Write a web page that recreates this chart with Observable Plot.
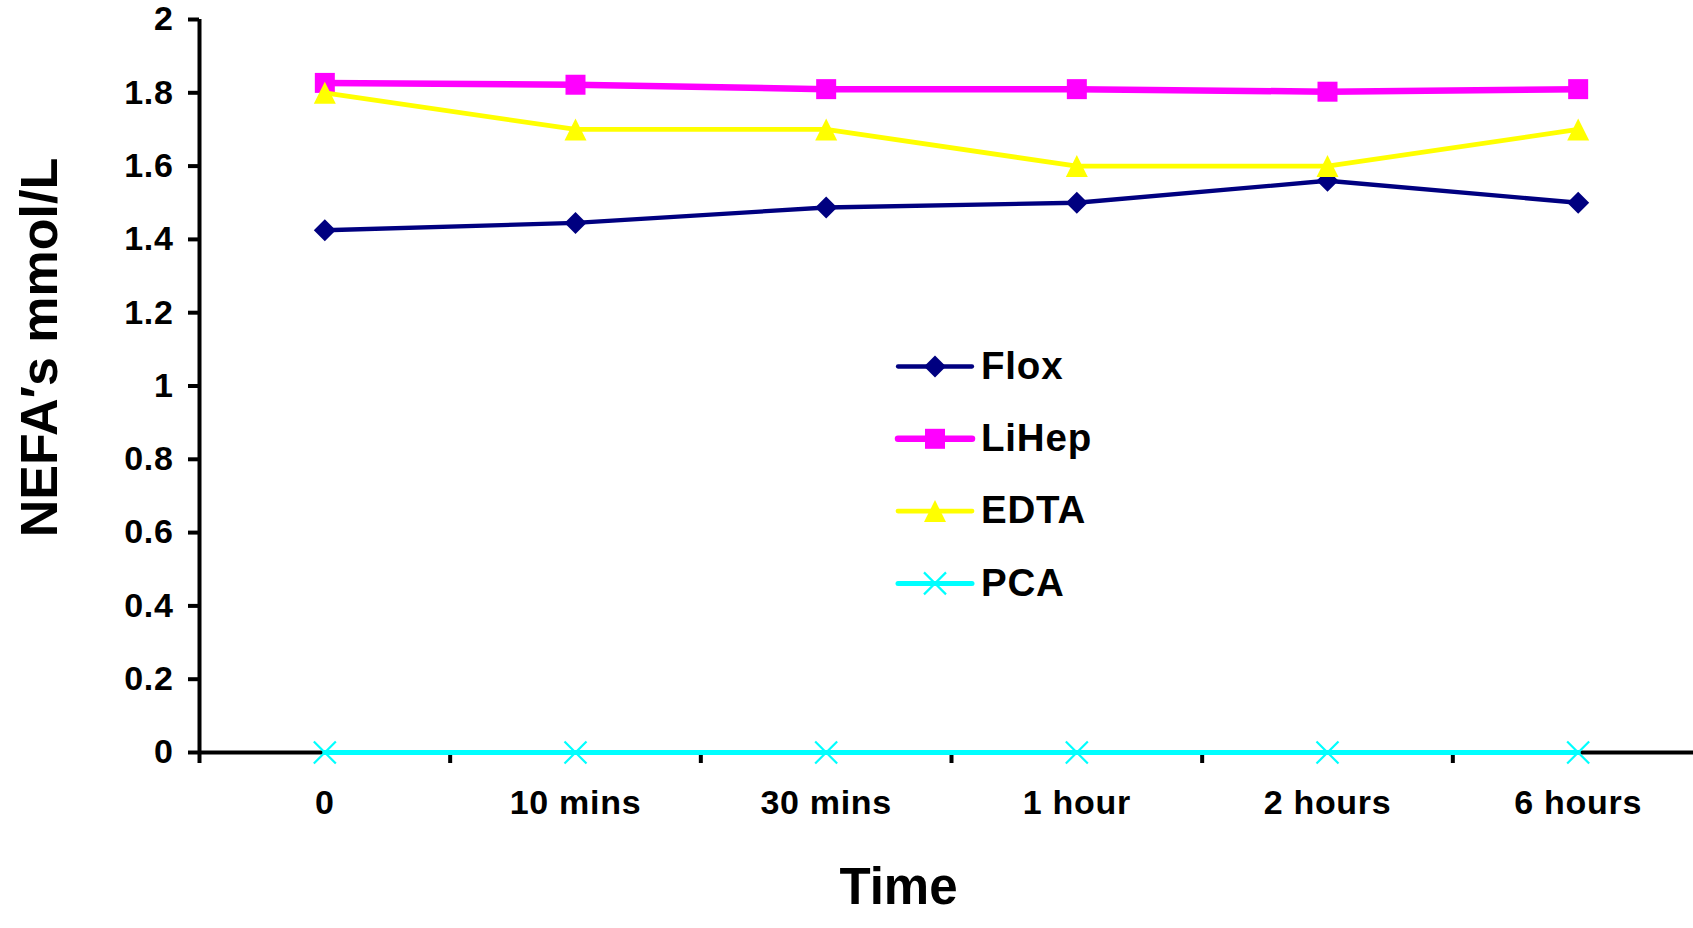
<!DOCTYPE html>
<html>
<head>
<meta charset="utf-8">
<script src="https://cdn.jsdelivr.net/npm/d3@7"></script>
<script src="https://cdn.jsdelivr.net/npm/@observablehq/plot@0.6"></script>
<style>
  html, body { margin: 0; padding: 0; background: #fff; }
  #chart svg { display: block; }
  #chart svg .tick-labels text { letter-spacing: 0.7px; }
</style>
</head>
<body>
<div id="chart"></div>
<script>
// Sampling times (categories along x)
const categories = ["0", "10 mins", "30 mins", "1 hour", "2 hours", "6 hours"];

// NEFA concentrations (mmol/L) per tube type
const floxValues  = [1.425, 1.445, 1.487, 1.50, 1.56, 1.50];
const lihepValues = [1.827, 1.822, 1.81, 1.81, 1.803, 1.81];
const edtaValues  = [1.80, 1.70, 1.70, 1.60, 1.60, 1.70];
const pcaValues   = [0, 0, 0, 0, 0, 0];

const seriesNames = ["Flox", "LiHep", "EDTA", "PCA"];

// y-axis ticks
const yTicks = [0, 0.2, 0.4, 0.6, 0.8, 1, 1.2, 1.4, 1.6, 1.8, 2];

// Marker shapes; size arrives as r²·π, so h is the dot radius
const half = size => Math.sqrt(size / Math.PI);
const diamond = {draw(c, size) { const h = half(size); c.moveTo(0, -h); c.lineTo(h, 0); c.lineTo(0, h); c.lineTo(-h, 0); c.closePath(); }};
const square = {draw(c, size) { const h = half(size); c.rect(-h, -h, 2 * h, 2 * h); }};
const triangle = {draw(c, size) { const h = half(size); c.moveTo(0, -h); c.lineTo(h, h); c.lineTo(-h, h); c.closePath(); }};
const cross = {draw(c, size) { const h = half(size); c.moveTo(-h, -h); c.lineTo(h, h); c.moveTo(h, -h); c.lineTo(-h, h); }};

const seriesStyle = {
  Flox:  {values: floxValues,  color: "#000080", width: 4.3, symbol: diamond,  r: 11, filled: true},
  LiHep: {values: lihepValues, color: "#FF00FF", width: 6.5, symbol: square,   r: 10, filled: true},
  EDTA:  {values: edtaValues,  color: "#FFFF00", width: 4.8, symbol: triangle, r: 11, filled: true},
  PCA:   {values: pcaValues,   color: "#00FFFF", width: 5,   symbol: cross,    r: 11, filled: false}
};

const font = "'Liberation Sans', Arial, Helvetica, sans-serif";

// Category boundaries carry the small x-axis tick marks
const boundaries = d3.range(categories.length + 1).map(i => i - 0.5);

const seriesMarks = seriesNames.flatMap(name => {
  const s = seriesStyle[name];
  const rows = s.values.map((v, i) => ({i, v}));
  return [
    Plot.line(rows, {x: "i", y: "v", stroke: s.color, strokeWidth: s.width, strokeLinejoin: "round", strokeLinecap: "round"}),
    Plot.dot(rows, s.filled
      ? {x: "i", y: "v", symbol: s.symbol, r: s.r, fill: s.color, stroke: "none"}
      : {x: "i", y: "v", symbol: s.symbol, r: s.r, fill: "none", stroke: s.color, strokeWidth: 2.2})
  ];
});

// In-plot legend: line sample, marker and series name per row
function legend() {
  const g = d3.create("svg:g");
  const top = 366.5, gap = 72.3, x0 = 898, x1 = 972, xm = 935, xt = 981;
  seriesNames.forEach((name, k) => {
    const s = seriesStyle[name];
    const y = top + k * gap;
    g.append("line").attr("x1", x0).attr("x2", x1).attr("y1", y).attr("y2", y)
      .attr("stroke", s.color).attr("stroke-width", s.width).attr("stroke-linecap", "round");
    g.append("path").attr("transform", `translate(${xm},${y})`)
      .attr("d", d3.symbol(s.symbol, s.r * s.r * Math.PI)())
      .attr("fill", s.filled ? s.color : "none")
      .attr("stroke", s.filled ? "none" : s.color)
      .attr("stroke-width", s.filled ? null : 2.2);
    g.append("text").attr("x", xt).attr("y", y).attr("dy", "0.32em")
      .attr("text-anchor", "start")
      .attr("font-size", 38.5).attr("letter-spacing", "0.8px")
      .attr("font-weight", "bold").attr("font-family", font)
      .attr("fill", "#000").text(name);
  });
  return g.node();
}

const chart = Plot.plot({
  width: 1693,
  height: 928,
  marginLeft: 199,
  marginRight: 0,
  marginTop: 19,
  marginBottom: 176,
  style: {fontFamily: font, fontWeight: "bold", background: "#fff", color: "#000", overflow: "visible"},
  x: {type: "linear", domain: [-0.5, categories.length - 0.5], range: [199, 1703], axis: null},
  y: {domain: [0, 2], axis: null},
  marks: [
    // y axis with outward ticks
    Plot.axisY(yTicks, {anchor: "left", label: null, tickSize: 11, tickPadding: 15, strokeWidth: 4,
      tickFormat: d => String(d), fontSize: 34, className: "tick-labels"}),
    Plot.ruleX([-0.5], {x: d => d, y1: () => 0, y2: () => 2, strokeWidth: 4}),
    // x axis: line, boundary ticks, category labels
    Plot.ruleY([0], {strokeWidth: 4}),
    Plot.axisX(boundaries, {anchor: "bottom", label: null, tickSize: 11, strokeWidth: 4, tickFormat: () => ""}),
    Plot.axisX(d3.range(categories.length), {anchor: "bottom", label: null, tickSize: 0, tickPadding: 37,
      tickFormat: i => categories[i], fontSize: 34, className: "tick-labels"}),
    // axis titles
    Plot.text(["Time"], {frameAnchor: "bottom", textAnchor: "middle", dx: -48, dy: 151, fontSize: 51, fontWeight: "bold", text: d => d}),
    Plot.text(["NEFA\u2032s mmol/L"], {frameAnchor: "left", textAnchor: "middle", rotate: -90, dx: -159, dy: -38.5, fontSize: 52, fontWeight: "bold", text: d => d}),
    ...seriesMarks,
    legend
  ]
});

document.getElementById("chart").append(chart);
</script>
</body>
</html>
